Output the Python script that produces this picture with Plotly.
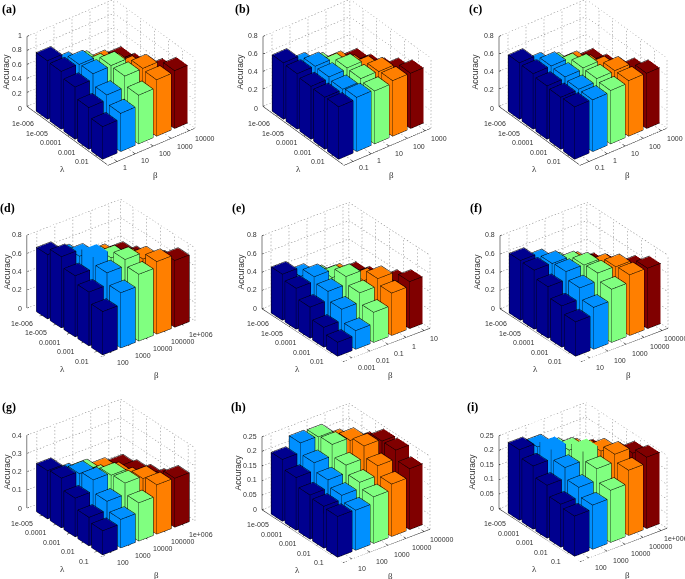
import math
import plotly.graph_objects as go

W, H = 685, 579
PANEL_NAMES = ["(a)", "(b)", "(c)", "(d)", "(e)", "(f)", "(g)", "(h)", "(i)"]
BETA_COLORS = ["#00008f", "#0090ff", "#80ff80", "#ff7f00", "#800000"]

# rows = lambda (first to last), columns = beta (first to last)
acc_a = [[.83,.645,.55,.45,.40],[.82,.81,.655,.55,.45],[.74,.82,.827,.655,.55],[.59,.66,.82,.82,.66],[.46,.54,.69,.80,.82]]
acc_b = [[.64,.51,.42,.35,.30],[.63,.627,.527,.42,.35],[.60,.62,.635,.524,.42],[.59,.594,.627,.62,.535],[.595,.615,.60,.63,.627]]
acc_c = [[.64,.51,.42,.35,.30],[.63,.63,.527,.42,.35],[.605,.62,.635,.52,.42],[.59,.594,.627,.63,.535],[.594,.587,.605,.63,.627]]
acc_d = [[.70,.60,.50,.45,.40],[.775,.705,.60,.50,.45],[.665,.80,.71,.60,.50],[.585,.72,.79,.72,.60],[.47,.60,.727,.79,.727]]
acc_e = [[.50,.40,.31,.25,.20],[.444,.495,.41,.31,.25],[.336,.433,.52,.40,.31],[.213,.336,.44,.52,.41],[.148,.20,.325,.46,.51]]
acc_f = [[.65,.56,.45,.38,.30],[.643,.64,.56,.45,.38],[.56,.65,.646,.556,.45],[.448,.57,.657,.65,.567],[.372,.455,.578,.66,.657]]
acc_g = [[.262,.195,.18,.15,.13],[.27,.257,.198,.176,.15],[.21,.272,.26,.196,.174],[.154,.204,.266,.253,.20],[.13,.154,.207,.268,.266]]
acc_h = [[.21,.243,.24,.20,.17],[.179,.206,.245,.235,.20],[.15,.178,.205,.247,.24],[.142,.156,.177,.21,.24],[.138,.136,.158,.178,.207]]
acc_i = [[.24,.226,.19,.165,.14],[.215,.258,.222,.19,.165],[.18,.217,.255,.226,.19],[.146,.18,.22,.246,.226],[.136,.15,.177,.222,.243]]
ACC = [acc_a, acc_b, acc_c, acc_d, acc_e, acc_f, acc_g, acc_h, acc_i]

LAMBDA_6 = ["1e-006", "1e-005", "0.0001", "0.001", "0.01"]
LAMBDA_5 = ["1e-005", "0.0001", "0.001", "0.01", "0.1"]
LAMBDA_TICKS = [LAMBDA_6] * 6 + [LAMBDA_5] * 3
BETA_TICKS = [
    ["1", "10", "100", "1000", "10000"],
    ["0.1", "1", "10", "100", "1000"],
    ["0.1", "1", "10", "100", "1000"],
    ["100", "1000", "10000", "100000", "1e+006"],
    ["0.001", "0.01", "0.1", "1", "10"],
    ["10", "100", "1000", "10000", "100000"],
    ["100", "1000", "10000", "100000", "1e+006"],
    ["10", "100", "1000", "10000", "100000"],
    ["100", "1000", "10000", "100000", "1e+006"],
]
Z_TICKS = [
    [0, .2, .4, .6, .8, 1], [0, .2, .4, .6, .8], [0, .2, .4, .6, .8],
    [0, .2, .4, .6, .8], [0, .2, .4, .6, .8], [0, .2, .4, .6, .8],
    [0, .1, .2, .3, .4], [0, .05, .1, .15, .2, .25], [0, .05, .1, .15, .2, .25],
]

# layout: left corner of the floor of each box, in pixels
CORNERS = [(27,108),(263,108),(499,108),(27,308),(262,308),(500,308),(27,508),(262,509),(499,508)]
ZTITLE_OFFSET = [21, 23, 24, 21, 22, 24, 21, 25, 28]
TIGHT = {3, 6}
XV, YV, ZV = (18, -7.2), (13.8, 9.4), (0, -73)
AZ, EL = math.radians(37.5), math.radians(30)
DS = 190
D = 2.0
PPU = DS / 2
BAR = 0.4
NUDGE = 0.006
DOT_ON, DOT_PERIOD = 1.4, 3.4  # pixels

fig = go.Figure()
ann = []

def txt(x, y, s, size=7, anchor="center", angle=0, family="Liberation Sans", color="#333333", bold=False):
    ann.append(dict(x=x / W, y=1 - y / H, xref="paper", yref="paper", text=f"<b>{s}</b>" if bold else s,
                    showarrow=False, xanchor=anchor, yanchor="middle", textangle=angle,
                    font=dict(size=size, family=family, color=color)))

for p, acc in enumerate(ACC):
    sid = "scene" if p == 0 else f"scene{p+1}"
    xl = (0.45, 5.65) if p in TIGHT else (0.5, 5.33)
    yl = (0.1, 5.5) if p in TIGHT else (0.05, 5.93)
    zmax = Z_TICKS[p][-1]
    lx, ly = CORNERS[p]
    xr, yr = xl[1] - xl[0], yl[1] - yl[0]

    def proj(x, y, z):
        u, v, w = x - xl[0], y - yl[0], z / zmax
        return (lx + u * XV[0] + v * YV[0], ly + u * XV[1] + v * YV[1] + w * ZV[1])

    cx, cy = proj((xl[0] + xl[1]) / 2, (yl[0] + yl[1]) / 2, zmax / 2)
    dy = max(DS / 2, cy)  # centre of the domain, kept inside the page
    shift = dy - cy
    fig.layout[sid] = dict(
        domain=dict(x=[max(cx - DS / 2, 0) / W, min(cx + DS / 2, W) / W],
                    y=[1 - (dy + DS / 2) / H, 1 - (dy - DS / 2) / H]),
        xaxis=dict(visible=False, range=list(xl)),
        yaxis=dict(visible=False, range=[-yl[1], -yl[0]]),
        zaxis=dict(visible=False, range=[0, zmax]),
        aspectmode="manual",
        aspectratio=dict(x=xr * XV[0] / math.cos(AZ) / PPU, y=yr * YV[0] / math.sin(AZ) / PPU, z=-ZV[1] / math.cos(EL) / PPU),
        camera=dict(projection=dict(type="orthographic"),
                    eye=dict(x=-math.sin(AZ) * math.cos(EL) * D, y=-math.cos(AZ) * math.cos(EL) * D, z=math.sin(EL) * D),
                    up=dict(x=0, y=0, z=1), center=dict(x=0, y=0, z=-shift / PPU / math.cos(EL))),
        bgcolor="rgba(0,0,0,0)",
    )

    # dotted back walls and floor, cut into short dashes
    gx, gy, gz = [], [], []
    def seg(a, b):
        pa, pb = proj(*a), proj(*b)
        length = math.hypot(pb[0] - pa[0], pb[1] - pa[1])
        n = max(int(length / DOT_PERIOD), 1)
        for k in range(n):
            t0 = k / n
            t1 = t0 + DOT_ON / length
            gx.extend([a[0] + (b[0] - a[0]) * t0, a[0] + (b[0] - a[0]) * t1, None])
            gy.extend([-(a[1] + (b[1] - a[1]) * t0), -(a[1] + (b[1] - a[1]) * t1), None])
            gz.extend([a[2] + (b[2] - a[2]) * t0, a[2] + (b[2] - a[2]) * t1, None])
    for z in Z_TICKS[p]:
        seg((xl[0], yl[0], z), (xl[1], yl[0], z))
        seg((xl[1], yl[0], z), (xl[1], yl[1], z))
    for i in range(1, 6):
        seg((i, yl[0], 0), (i, yl[0], zmax))
        seg((xl[1], i, 0), (xl[1], i, zmax))
        seg((i, yl[0], 0), (i, yl[1], 0))
        seg((xl[0], i, 0), (xl[1], i, 0))
    seg((xl[1], yl[0], 0), (xl[1], yl[0], zmax))
    seg((xl[1], yl[1], 0), (xl[1], yl[1], zmax))
    fig.add_trace(go.Scatter3d(x=gx, y=gy, z=gz, mode="lines", scene=sid, hoverinfo="skip", showlegend=False,
                               line=dict(color="#7a7a7a", width=1)))

    # solid axes with short inward ticks
    ax = [xl[0], xl[0], None, xl[0], xl[0], xl[1]]
    ay = [-yl[0], -yl[0], None, -yl[0], -yl[1], -yl[1]]
    az = [0, zmax, None, 0, 0, 0]
    for i in range(1, 6):
        ax += [None, i, i, None, xl[0], xl[0] + 0.15]
        ay += [None, -yl[1], -(yl[1] - 0.15), None, -i, -i]
        az += [None, 0, 0, None, 0, 0]
    for z in Z_TICKS[p]:
        ax += [None, xl[0], xl[0] + 0.12]
        ay += [None, -yl[0], -yl[0]]
        az += [None, z, z]
    fig.add_trace(go.Scatter3d(x=ax, y=ay, z=az, mode="lines", scene=sid, hoverinfo="skip", showlegend=False,
                               line=dict(color="#000000", width=1)))

    # bars: one mesh per beta
    nz = NUDGE * zmax
    for c in range(5):
        vx, vy, vz, fi, fj, fk = [], [], [], [], [], []
        ex, ey, ez = [], [], []
        for r in range(5):
            x, y, z = c + 1, r + 1, acc[r][c]
            n = len(vx)
            vx += [x - BAR, x + BAR, x + BAR, x - BAR] * 2
            vy += [-(y - BAR), -(y - BAR), -(y + BAR), -(y + BAR)] * 2
            vz += [0] * 4 + [z] * 4
            quads = [(0,1,2,3),(4,5,6,7),(0,1,5,4),(1,2,6,5),(2,3,7,6),(3,0,4,7)]
            for q in quads:
                fi += [n + q[0], n + q[0]]; fj += [n + q[1], n + q[2]]; fk += [n + q[2], n + q[3]]
            b2 = BAR + NUDGE
            xs = [x - b2, x + b2, x + b2, x - b2] * 2
            ys = [-(y - b2), -(y - b2), -(y + b2), -(y + b2)] * 2
            zs = [0] * 4 + [z + nz] * 4
            # only the edges that face the camera: top ring, near verticals, near bottom edges
            for a, b in [(4,5),(5,6),(6,7),(7,4),(0,4),(2,6),(3,7),(0,3),(3,2)]:
                ex += [xs[a], xs[b], None]; ey += [ys[a], ys[b], None]; ez += [zs[a], zs[b], None]
        fig.add_trace(go.Mesh3d(x=vx, y=vy, z=vz, i=fi, j=fj, k=fk, color=BETA_COLORS[c], flatshading=True,
                                lighting=dict(ambient=1, diffuse=0, specular=0, fresnel=0, roughness=1),
                                scene=sid, hoverinfo="skip", showscale=False))
        fig.add_trace(go.Scatter3d(x=ex, y=ey, z=ez, mode="lines", scene=sid, hoverinfo="skip", showlegend=False,
                                   line=dict(color="#000000", width=1)))

    # text
    for i, s in enumerate(LAMBDA_TICKS[p]):
        px, py = proj(xl[0], i + 1, 0)
        txt(px - 4, py + 7, s, anchor="right")
    for i, s in enumerate(BETA_TICKS[p]):
        px, py = proj(i + 1, yl[1], 0)
        # the right-hand column's longest labels stop at the page edge
        txt(min(px + 3.5, W - 1 - 3.6 * len(s)), py + 8, s, anchor="left")
    for z in Z_TICKS[p]:
        px, py = proj(xl[0], yl[0], z)
        txt(px - 3, py, f"{z:g}", anchor="right")
    px, py = proj(xl[0], yl[0], zmax / 2)
    txt(px - ZTITLE_OFFSET[p], py, "Accuracy", size=8.5, angle=-90)
    fx, fy = proj(xl[0], yl[1], 0)
    if p in TIGHT:
        txt(fx + 55, fy + 16, "β", size=9, family="Liberation Serif")
        txt(fx - 39, fy + 10, "λ", size=9, family="Liberation Serif")
    else:
        txt(fx + 47, fy + 12, "β", size=9, family="Liberation Serif")
        txt(fx - 46, fy + 6, "λ", size=9, family="Liberation Serif")

LABEL_POS = [(9,9),(243,9),(475,9),(8,208),(238,208),(476,208),(9,407),(238,407),(472,407)]
for s, (x, y) in zip(PANEL_NAMES, LABEL_POS):
    txt(x, y, s, size=12, family="Liberation Serif", color="#000000", bold=True)

fig.update_layout(width=W, height=H, margin=dict(l=0, r=0, t=0, b=0), paper_bgcolor="white",
                  showlegend=False, annotations=ann)
fig.write_html("out.html", config=dict(displayModeBar=False),
               post_script="document.body.style.margin='0';document.body.style.overflow='hidden';")
